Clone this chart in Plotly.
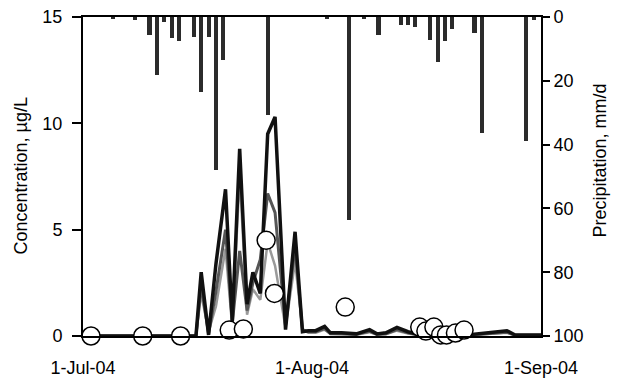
import plotly.graph_objects as go

# ---- data ----
# concentration lines (three simulated series), sample times
line_time = ["2004-07-01 00:00", "2004-07-16 07:00", "2004-07-17 00:00", "2004-07-18 00:00",
             "2004-07-19 00:00", "2004-07-20 07:00", "2004-07-21 05:00", "2004-07-22 05:00",
             "2004-07-23 05:00", "2004-07-24 00:00", "2004-07-25 00:00", "2004-07-26 00:00",
             "2004-07-27 00:00", "2004-07-28 10:00", "2004-07-29 17:00", "2004-07-30 17:00",
             "2004-07-31 12:00", "2004-08-01 12:00", "2004-08-02 17:00", "2004-08-03 12:00",
             "2004-08-05 00:00", "2004-08-07 00:00", "2004-08-08 19:00", "2004-08-09 19:00",
             "2004-08-11 00:00", "2004-08-12 12:00", "2004-08-14 00:00", "2004-08-15 00:00",
             "2004-08-17 00:00", "2004-08-22 00:00", "2004-08-27 09:00", "2004-08-28 12:00",
             "2004-09-01 00:00"]
conc_a = [0.0, 0.0, 3.0, 0.05, 3.4, 6.9, 0.7, 8.8, 1.5, 3.0, 2.0, 9.5, 10.3, 0.3, 4.9, 0.2,
          0.25, 0.25, 0.45, 0.15, 0.15, 0.1, 0.3, 0.1, 0.15, 0.4, 0.2, 0.1, 0.05, 0.05, 0.25, 0.05, 0.05]
conc_b = [0.0, 0.0, 2.4, 0.1, 2.1, 5.0, 0.6, 4.0, 1.2, 2.5, 3.6, 6.7, 5.8, 0.5, 4.2, 0.3,
          0.2, 0.2, 0.35, 0.1, 0.1, 0.08, 0.22, 0.08, 0.1, 0.3, 0.15, 0.08, 0.04, 0.04, 0.18, 0.04, 0.04]
conc_c = [0.0, 0.0, 2.0, 0.2, 1.4, 4.1, 0.4, 7.6, 1.0, 2.2, 1.7, 4.4, 3.3, 0.4, 3.5, 0.3,
          0.15, 0.15, 0.3, 0.1, 0.08, 0.06, 0.18, 0.06, 0.08, 0.25, 0.12, 0.06, 0.03, 0.03, 0.15, 0.03, 0.03]

# measured concentrations (circles)
obs_time = ["2004-07-02 02:00", "2004-07-09 02:00", "2004-07-14 05:00", "2004-07-20 19:00",
            "2004-07-22 17:00", "2004-07-25 19:00", "2004-07-26 22:00", "2004-08-05 12:00",
            "2004-08-15 14:00", "2004-08-16 10:00", "2004-08-17 12:00", "2004-08-18 10:00",
            "2004-08-19 05:00", "2004-08-20 10:00", "2004-08-21 14:00"]
obs_conc = [0.0, 0.0, 0.0, 0.28, 0.33, 4.5, 2.0, 1.36, 0.42, 0.23, 0.42, 0.05, 0.05, 0.14, 0.28]

# daily precipitation (bars, hanging from top)
rain_date = ["2004-07-05", "2004-07-08", "2004-07-10", "2004-07-11", "2004-07-12", "2004-07-13",
             "2004-07-14", "2004-07-16", "2004-07-17", "2004-07-18", "2004-07-19", "2004-07-20",
             "2004-07-26", "2004-08-03", "2004-08-06", "2004-08-08", "2004-08-10", "2004-08-13",
             "2004-08-14", "2004-08-15", "2004-08-17", "2004-08-18", "2004-08-19", "2004-08-20",
             "2004-08-23", "2004-08-24", "2004-08-30", "2004-08-31"]
rain_mm = [0.5, 1.0, 5.6, 18.2, 1.5, 6.6, 7.4, 6.2, 23.4, 6.2, 48.0, 13.5,
           30.7, 0.6, 63.6, 0.6, 5.6, 2.5, 2.5, 3.0, 7.2, 14.0, 7.4, 3.9,
           4.9, 36.5, 39.0, 1.0]

x_tickvals = ["2004-07-01", "2004-08-01", "2004-09-01"]
x_ticktext = ["1-Jul-04", "1-Aug-04", "1-Sep-04"]

FONT = "Liberation Sans, Arial, sans-serif"

fig = go.Figure()

fig.add_trace(go.Bar(x=rain_date, y=rain_mm, yaxis="y2", marker_color="#2b2b2b",
                     marker_line_width=0, width=0.55 * 86400000, showlegend=False))

fig.add_trace(go.Scatter(x=line_time, y=conc_c, mode="lines",
                         line=dict(color="#9a9a9a", width=2.5), showlegend=False))
fig.add_trace(go.Scatter(x=line_time, y=conc_b, mode="lines",
                         line=dict(color="#555555", width=3), showlegend=False))
fig.add_trace(go.Scatter(x=line_time, y=conc_a, mode="lines",
                         line=dict(color="#111111", width=3.5), showlegend=False))

fig.add_trace(go.Scatter(x=obs_time, y=obs_conc, mode="markers", cliponaxis=False,
                         marker=dict(size=18, color="white", line=dict(color="black", width=1.5)),
                         showlegend=False))

fig.update_layout(
    width=617, height=379,
    margin=dict(l=83, r=76, t=17, b=43),
    paper_bgcolor="white", plot_bgcolor="white",
    font=dict(family=FONT, size=18, color="black"),
    bargap=0,
    xaxis=dict(type="date", range=["2004-07-01", "2004-09-01"],
               tickvals=x_tickvals, ticktext=x_ticktext, automargin=False,
               showline=True, linecolor="black", linewidth=2, mirror=True,
               ticks="", showgrid=False, zeroline=False,
               ticklabelstandoff=14, tickfont=dict(size=18)),
    yaxis=dict(range=[0, 15], tickvals=[0, 5, 10, 15], automargin=False,
               showline=True, linecolor="black", linewidth=2,
               ticks="outside", ticklen=9, tickwidth=1.5, tickcolor="black",
               ticklabelstandoff=6,
               showgrid=False, zeroline=False, tickfont=dict(size=18)),
    yaxis2=dict(range=[100, 0], tickvals=[0, 20, 40, 60, 80, 100],
                overlaying="y", side="right", automargin=False,
                showline=True, linecolor="black", linewidth=2,
                ticks="outside", ticklen=7, tickwidth=1.5, tickcolor="black",
                showgrid=False, zeroline=False, tickfont=dict(size=18)),
    annotations=[
        dict(text="Concentration, µg/L", xref="paper", yref="paper",
             x=(20 - 83) / 458, y=0.5, textangle=-90, showarrow=False,
             xanchor="center", yanchor="middle", font=dict(size=18)),
        dict(text="Precipitation, mm/d", xref="paper", yref="paper",
             x=1 + (600 - 541) / 458, y=0.55, textangle=-90, showarrow=False,
             xanchor="center", yanchor="middle", font=dict(size=18)),
    ],
)

fig.write_html("out.html", config={"displayModeBar": False},
               post_script="document.body.style.margin='0';document.body.style.overflow='hidden';")
